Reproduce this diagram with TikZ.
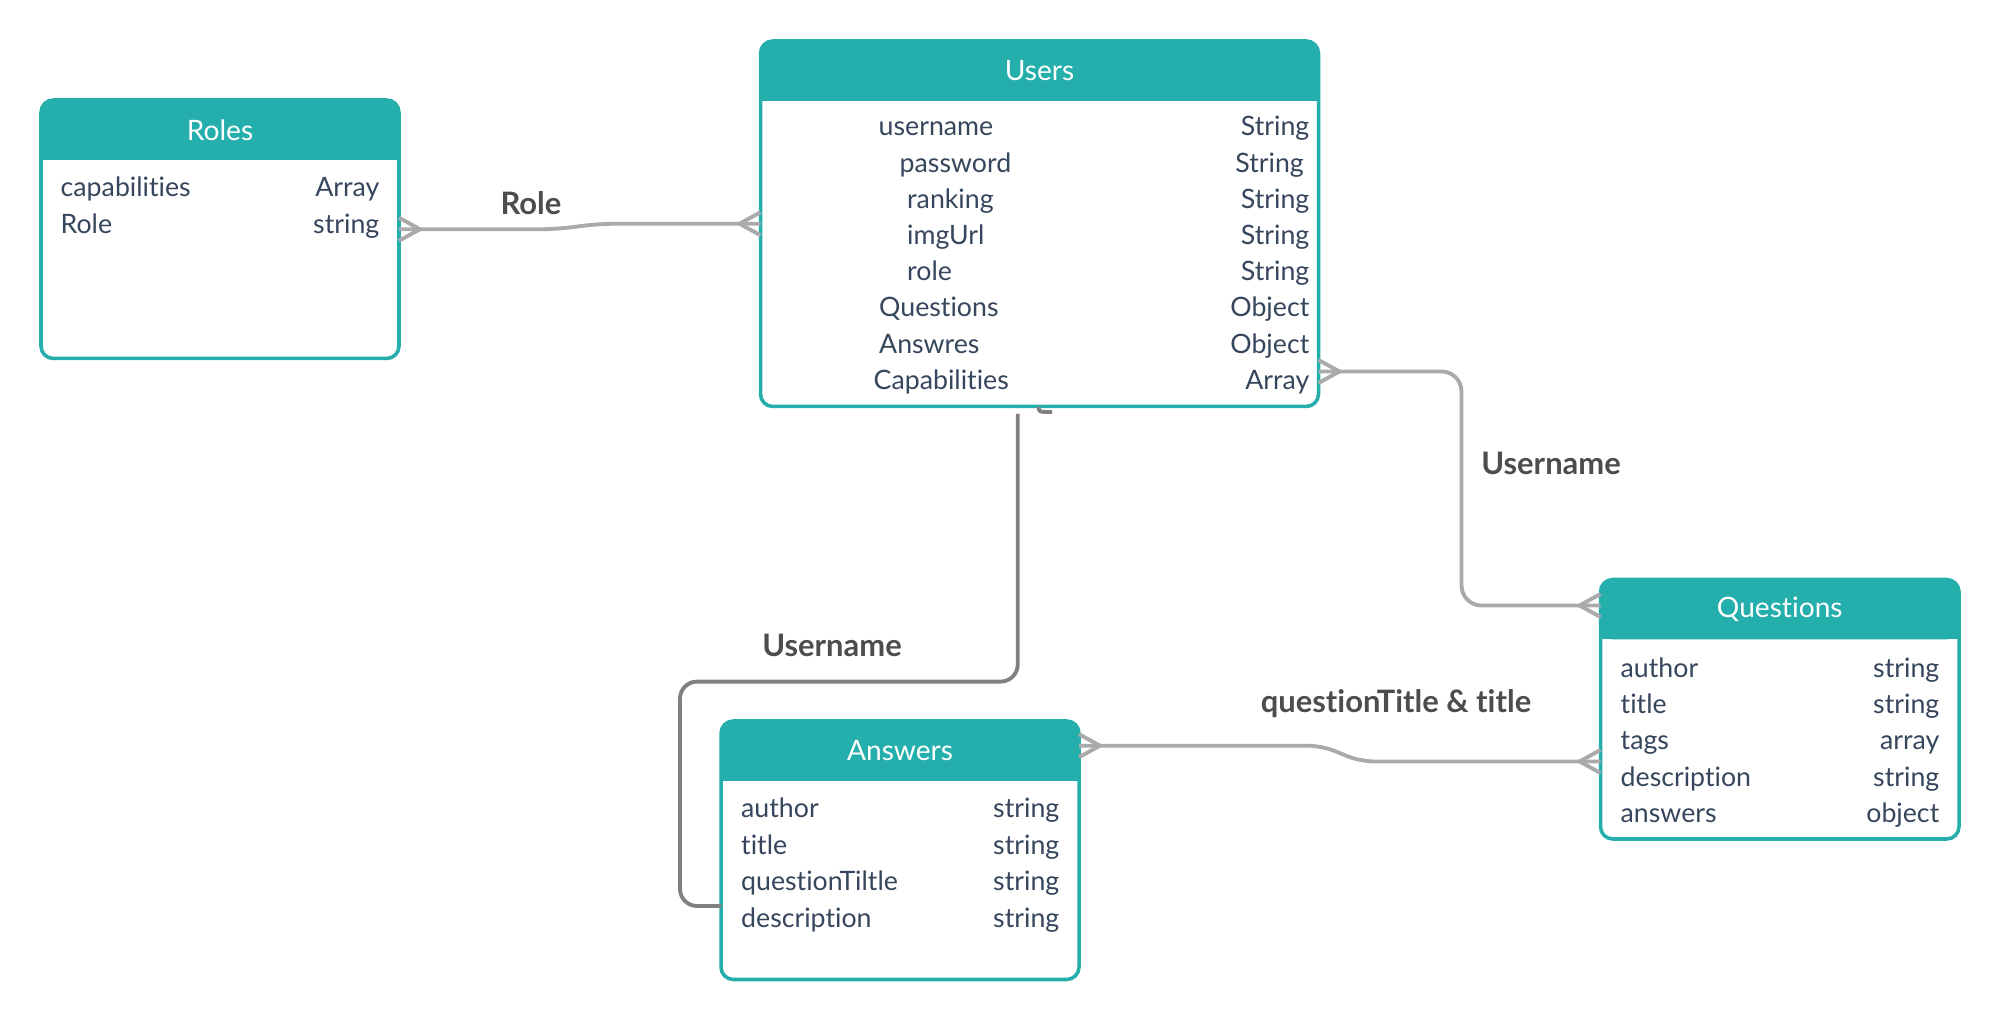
\documentclass[tikz,border=0pt]{standalone}
\usepackage{fontspec}
\setmainfont{Lato}[Ligatures=CommonOff]
\usetikzlibrary{calc}
\definecolor{hdteal}{RGB}{36,174,172}
\definecolor{fldtext}{RGB}{54,70,92}
\definecolor{lnkgray}{RGB}{170,170,170}
\definecolor{lnkdark}{RGB}{128,128,128}
\definecolor{lbltext}{RGB}{77,77,77}
\tikzset{%
  ebody/.style={anchor=north west, fill=white, inner sep=0pt, outer sep=0pt},%
  ehead/.style={fill=hdteal},%
  eline/.style={draw=hdteal, line width=1pt, rounded corners=3.5pt},%
  etitle/.style={text=white, inner sep=0pt, font=\fontsize{8}{9}\selectfont},%
  fld/.style={anchor=west, inner sep=0pt, text=fldtext, text height=0.72em,
    text depth=0.18em, font=\fontsize{7.6}{9}\selectfont},%
  typ/.style={fld, anchor=east},%
  lnk/.style={draw=lnkgray, line width=1.1pt},%
  lnkd/.style={draw=lnkdark, line width=1.1pt},%
  lbl/.style={inner sep=0pt, text=lbltext, font=\fontsize{8.8}{10}\selectfont\bfseries}%
}
\newcommand{\entity}[6]{% name, x, y, width, height, title
  \node[ebody, minimum width=#4cm, minimum height=#5cm] (#1) at (#2,#3) {};
  \fill[ehead, rounded corners=3.5pt] (#1.north west) rectangle ($(#1.north east)+(0,0.60)$);
  \fill[ehead] ($(#1.north west)+(0,0.3)$) rectangle ($(#1.north east)+(0,0.60)$);
  \draw[eline] (#1.north west) rectangle (#1.south east);
  \node[etitle] (#1-title) at ($(#1.north)+(0,0.30)$) {#6};
}
\newcommand{\crow}[2]{% anchor, direction
  \draw[lnk, shift={(#1)}, rotate=#2] (0,-0.115) -- (0.21,0) -- (0,0.115);
}

\begin{document}
\begin{tikzpicture}[x=1cm,y=-1cm]
  \useasboundingbox (0,0) rectangle (20,10.2);
  % tables
  \entity{rol}{0.41}{1.00}{3.58}{2.585}{Roles}
  \entity{usr}{7.605}{0.41}{5.58}{3.655}{Users}
  \entity{qst}{16.005}{5.795}{3.585}{2.595}{Questions}
  \entity{ans}{7.21}{7.21}{3.58}{2.585}{Answers}
  % fields
  \foreach \f/\t [count=\i] in {capabilities/Array,Role/string}{
    \node[fld] (rol-f\i) at (0.60,{1.503+0.37*\i}) {\f};
    \node[typ] (rol-t\i) at (3.80,{1.503+0.37*\i}) {\t};
  }
  \foreach \a/\f/\b/\t [count=\i] in {8.78/username/13.10/String,
      8.99/password/13.045/String, 9.065/ranking/13.10/String,
      9.065/imgUrl/13.10/String, 9.065/role/13.10/String,
      8.785/Questions/13.10/Object, 8.785/Answres/13.10/Object,
      8.73/Capabilities/13.10/Array}{
    \node[fld] (usr-f\i) at (\a,{0.903+0.362*\i}) {\f};
    \node[typ] (usr-t\i) at (\b,{0.903+0.362*\i}) {\t};
  }
  \foreach \f/\t [count=\i] in {author/string,title/string,tags/array,
      description/string,answers/object}{
    \node[fld] (qst-f\i) at (16.20,{6.318+0.362*\i}) {\f};
    \node[typ] (qst-t\i) at (19.40,{6.318+0.362*\i}) {\t};
  }
  \foreach \f/\t [count=\i] in {author/string,title/string,
      questionTiltle/string,description/string}{
    \node[fld] (ans-f\i) at (7.405,{7.714+0.366*\i}) {\f};
    \node[typ] (ans-t\i) at (10.60,{7.714+0.366*\i}) {\t};
  }
  % coordinates
  \coordinate (r1) at ($(rol.east)+(1.56,0)$);
  \coordinate (r2) at ($(usr.west)+(-1.60,0)$);
  \coordinate (uq) at ($(usr.south east)+(0,-0.35)$);
  \coordinate (qu) at ($(qst.north west)+(0,0.26)$);
  \coordinate (ua) at ($(usr.south west)+(2.572,0.075)$);
  \coordinate (au) at ($(ans.south west)+(0,-0.735)$);
  \coordinate (aq) at ($(ans.north east)+(0,0.247)$);
  \coordinate (qa) at ($(qst.north west)+(0,1.82)$);
  \coordinate (a1) at ($(aq)+(2.43,0)$);
  \coordinate (a2) at ($(qa)+(-2.405,0)$);
  % links
  \draw[lnk, rounded corners=4pt] (rol.east) -- (r1) -- (r2) -- (usr.west);
  \draw[lnk, rounded corners=0.2cm] (uq) -| ($(qu)+(-1.39,0)$) -- (qu);
  \draw[lnkd, rounded corners=0.17cm] (ua) |- (6.80,6.816) |- (au);
  \draw[lnkd] (10.385,4.07) .. controls (10.39,4.12) .. (10.52,4.12);
  \draw[lnk, rounded corners=4pt] (aq) -- (a1) -- (a2) -- (qa);
  \crow{rol.east}{0}
  \crow{usr.west}{180}
  \crow{uq}{0}
  \crow{qu}{180}
  \crow{aq}{0}
  \crow{qa}{180}
  % labels
  \node[lbl] (lbl-role) at (5.31,2.03) {Role};
  \node[lbl] (lbl-uq) at (15.51,4.63) {Username};
  \node[lbl] (lbl-ua) at (8.32,6.45) {Username};
  \node[lbl] (lbl-aq) at (13.96,7.04) {questionTitle \& title};
\end{tikzpicture}
\end{document}
